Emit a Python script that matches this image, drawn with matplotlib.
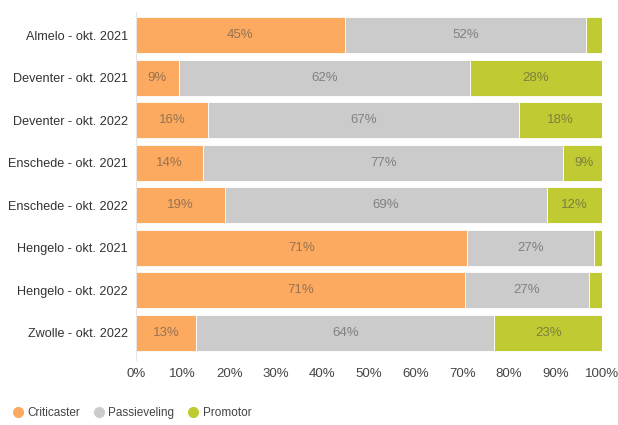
import matplotlib.pyplot as plt
from matplotlib.lines import Line2D
import numpy as np

plt.rcParams['font.family'] = ['Liberation Sans', 'DejaVu Sans']

categories = ['Almelo - okt. 2021', 'Deventer - okt. 2021', 'Deventer - okt. 2022',
              'Enschede - okt. 2021', 'Enschede - okt. 2022', 'Hengelo - okt. 2021',
              'Hengelo - okt. 2022', 'Zwolle - okt. 2022']
criticaster = [44.8, 9.2, 15.5, 14.4, 19.1, 71.1, 70.6, 12.9]
passieveling = [51.8, 62.4, 66.6, 77.3, 69.0, 27.2, 26.6, 64.0]
promotor = [3.4, 28.4, 17.9, 8.7, 11.9, 1.7, 2.8, 23.1]

series = [('Criticaster', criticaster, '#fcaa60'),
          ('Passieveling', passieveling, '#cbcbcb'),
          ('Promotor', promotor, '#c0ca33')]

fig = plt.figure(figsize=(6.18, 4.25), dpi=100)
ax = fig.add_axes([136 / 618, 1 - 354 / 425, 466 / 618, 340 / 425])

y = np.arange(len(categories))
left = np.zeros(len(categories))
for name, vals, col in series:
    vals = np.array(vals)
    ax.barh(y, vals, left=left, height=0.85, color=col, edgecolor='white', linewidth=0.6)
    for yi, l, v in zip(y, left, vals):
        if v >= 5:
            ax.text(l + v / 2, yi, f'{round(v):.0f}%', ha='center', va='center',
                    fontsize=9.5, color='#444444', alpha=0.55)
    left += vals

ax.set_xlim(0, 100)
ax.set_ylim(len(categories) - 0.5, -0.5)
ax.set_yticks(y)
ax.set_yticklabels(categories, fontsize=9.1, color='#333333')
ax.set_xticks(np.arange(0, 101, 10))
ax.set_xticklabels([f'{t}%' for t in range(0, 101, 10)], fontsize=9.5, color='#444444')
ax.tick_params(axis='x', length=0, pad=10)
ax.tick_params(axis='y', length=0, pad=6)
for s in ['top', 'right', 'bottom']:
    ax.spines[s].set_visible(False)
ax.spines['left'].set_color('#e6e6e6')
ax.spines['left'].set_bounds(len(categories) - 0.5 + 0.15, -0.5 - 0.05)

handles = [Line2D([], [], marker='o', linestyle='', markersize=7, color=c, label=n)
           for n, _, c in series]
leg = fig.legend(handles=handles, loc='center left', bbox_to_anchor=(0.0, 1 - 413 / 425),
                 ncol=3, frameon=False, fontsize=8.5, handletextpad=0.2,
                 columnspacing=1.0, handlelength=1.2)
for t in leg.get_texts():
    t.set_color('#444444')

fig.savefig('out.png', dpi=100)
